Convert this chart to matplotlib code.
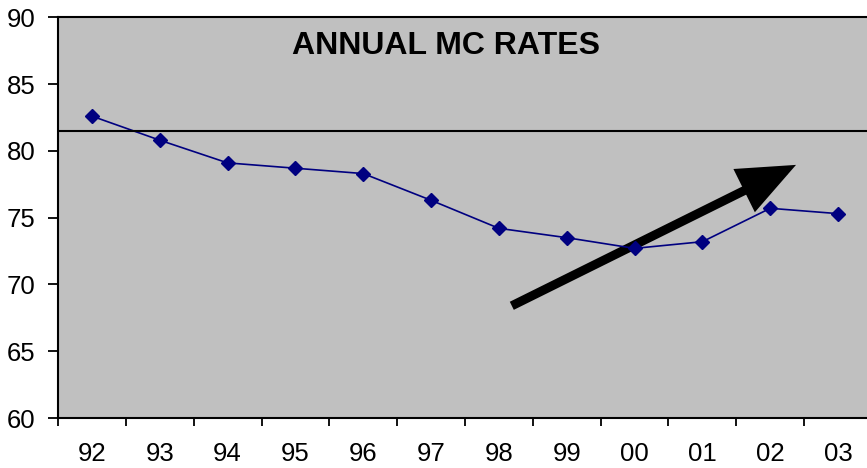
import matplotlib.pyplot as plt
from matplotlib.patches import FancyArrowPatch
import numpy as np

plt.rcParams['font.family'] = ['Liberation Sans', 'DejaVu Sans']

# data
years = ['92', '93', '94', '95', '96', '97', '98', '99', '00', '01', '02', '03']
rates = [82.6, 80.8, 79.1, 78.7, 78.3, 76.3, 74.2, 73.5, 72.7, 73.2, 75.7, 75.3]
target = 81.5
arrow_start = (6.19, 68.4)
arrow_end = (10.38, 78.95)

fig = plt.figure(figsize=(8.67, 4.68), dpi=100)
ax = fig.add_axes([58/867, 1 - 418/468, (872-58)/867, (418-17.3)/468])
ax.set_facecolor('#c0c0c0')

x = np.arange(len(years))
ax.plot(x, rates, color='#000080', lw=1.2, marker='D', ms=7.5, mfc='#000080', mec='#000080')
ax.axhline(target, color='black', lw=1.5)

arr = FancyArrowPatch(arrow_start, arrow_end, arrowstyle='-|>,head_length=30,head_width=12.5',
                      mutation_scale=1, lw=6.5, color='black', shrinkA=0, shrinkB=0,
                      capstyle='butt', joinstyle='miter')
ax.add_patch(arr)

ax.set_xlim(-0.5, len(years) - 0.5)
ax.set_ylim(60, 90)
ax.set_yticks(np.arange(60, 91, 5))
ax.set_xticks(x)
ax.set_xticklabels(years)
ax.set_xticks(np.arange(-0.5, len(years), 1), minor=True)
ax.tick_params(axis='x', which='major', length=0, pad=17, labelsize=18.5)
ax.tick_params(axis='x', which='minor', length=6, width=1.3, direction='out')
ax.tick_params(axis='y', length=7, width=1.3, pad=9, labelsize=18.5)

for s in ['left', 'bottom', 'top']:
    ax.spines[s].set_linewidth(1.5)
ax.spines['right'].set_visible(False)

fig.text(446/867, 1 - 46/468, 'ANNUAL MC RATES', ha='center', va='center',
         fontsize=23, fontweight='bold')

fig.savefig('out.png', dpi=100)
